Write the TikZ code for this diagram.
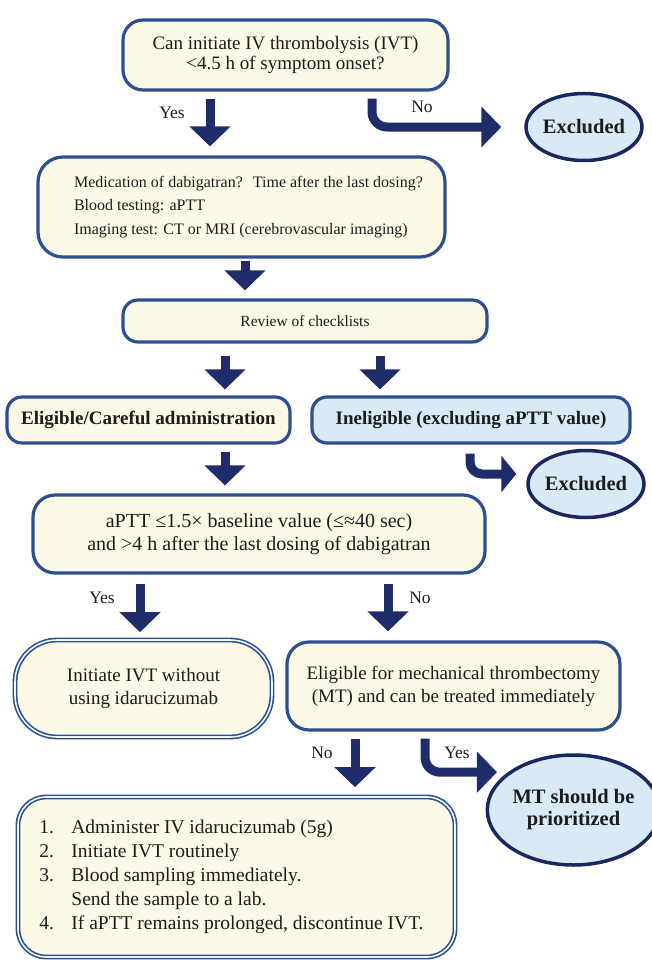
\documentclass[tikz,border=0pt]{standalone}
\usepackage{fontspec}
\setmainfont{Liberation Serif}
\usetikzlibrary{arrows.meta,shapes.geometric}
\definecolor{cream}{RGB}{252,250,230}
\definecolor{lblue}{RGB}{216,234,246}
\definecolor{bord}{RGB}{45,78,145}
\definecolor{arr}{RGB}{31,44,106}
\definecolor{ovb}{RGB}{28,39,97}
\definecolor{txt}{RGB}{28,28,28}
\begin{document}
\begin{tikzpicture}[x=1pt,y=-1pt,
  box/.style={draw=bord, line width=3.2pt, fill=cream, rounded corners=18pt,
    inner sep=0pt, text=txt, align=center, font=\fontsize{19}{23}\selectfont},
  bluebox/.style={box, fill=lblue},
  dbox/.style={box, line width=1.6pt, double=lblue!40!white, double distance=1.6pt},
  oval/.style={ellipse, draw=ovb, line width=3.5pt, fill=lblue, inner sep=0pt,
    text=txt, align=center, font=\fontsize{20.5}{22}\selectfont\bfseries},
  lbl/.style={text=txt, inner sep=0pt, font=\fontsize{17.5}{20}\selectfont},
  bigarrow/.style={draw=arr, line width=9pt, -{Triangle[width=40pt,length=20pt]}},
  smallarrow/.style={draw=arr, line width=9pt, -{Triangle[width=36pt,length=15pt]}}
]
\useasboundingbox (0,0) rectangle (652,964);

% nodes
\node[box, rounded corners=20pt, minimum width=325pt, minimum height=70pt,
  font=\fontsize{19}{20}\selectfont] (q1) at (285.5,55)
  {Can initiate IV thrombolysis (IVT)\\<4.5 h of symptom onset?};
\node[oval, minimum width=108pt, minimum height=67pt] (exc1) at (584,127) {Excluded};
\node[box, rounded corners=25pt, minimum width=407pt, minimum height=100pt, align=left,
  font=\fontsize{16}{23.5}\selectfont] (med) at (241.5,207)
  {\hspace*{14pt}Medication of dabigatran?\hspace{10pt}Time after the last dosing?\\
   \hspace*{14pt}Blood testing: aPTT\\
   \hspace*{14pt}Imaging test: CT or MRI (cerebrovascular imaging)};
\node[box, rounded corners=15pt, minimum width=364pt, minimum height=42pt,
  font=\fontsize{15.5}{18}\selectfont] (rev) at (305,321) {Review of checklists};
\node[box, rounded corners=15pt, minimum width=283pt, minimum height=46pt,
  font=\fontsize{19}{22}\selectfont\bfseries] (elig) at (148.5,420) {Eligible/Careful administration};
\node[bluebox, rounded corners=15pt, minimum width=318pt, minimum height=46pt,
  font=\fontsize{19}{22}\selectfont\bfseries] (inel) at (471,420) {Ineligible (excluding aPTT value)};
\node[oval, minimum width=108pt, minimum height=67pt] (exc2) at (586,484) {Excluded};
\node[box, rounded corners=22pt, minimum width=452pt, minimum height=78pt,
  font=\fontsize{20}{23}\selectfont] (aptt) at (259,534)
  {aPTT ≤1.5× baseline value (≤≈40 sec)\\and >4 h after the last dosing of dabigatran};
\node[dbox, rounded corners=42pt, minimum width=257pt, minimum height=97pt] (init) at (143.5,688.5)
  {Initiate IVT without\\using idarucizumab};
\node[box, rounded corners=22pt, minimum width=333pt, minimum height=88pt] (mte) at (453.5,686)
  {Eligible for mechanical thrombectomy\\(MT) and can be treated immediately};
\node[oval, minimum width=143pt, minimum height=110pt] (mt) at (573.5,810)
  {MT should be\\prioritized};
\node[dbox, rounded corners=28pt, minimum width=437pt, minimum height=160pt, align=left,
  font=\fontsize{19.5}{24}\selectfont] (steps) at (236.5,877)
  {\makebox[32pt][l]{1.}Administer IV idarucizumab (5g)\\
   \makebox[32pt][l]{2.}Initiate IVT routinely\\
   \makebox[32pt][l]{3.}Blood sampling immediately.\\
   \hspace*{32pt}Send the sample to a lab.\\
   \makebox[32pt][l]{4.}If aPTT remains prolonged, discontinue IVT.\hspace*{10pt}};

% labels
\node[lbl] (yes1) at (172,113) {Yes};
\node[lbl] (no1) at (422,107) {No};
\node[lbl] (yes2) at (102,598) {Yes};
\node[lbl] (no2) at (420,598) {No};
\node[lbl] (no3) at (322,753) {No};
\node[lbl] (yes3) at (457,753) {Yes};

% column coordinates
\coordinate (c1) at (210,0);
\coordinate (c2) at (372,0);
\coordinate (c3) at (245,0);
\coordinate (c4) at (225,0);
\coordinate (c5) at (380,0);
\coordinate (c6) at (470,0);
\coordinate (c7) at (140,0);
\coordinate (c8) at (388,0);
\coordinate (c9) at (355,0);
\coordinate (c10) at (425,0);

% connectors
\draw[bigarrow, shorten <=7pt, shorten >=9pt] (q1.south -| c1) -- (med.north -| c1);
\draw[bigarrow, rounded corners=15pt, shorten <=7pt, shorten >=23pt] (q1.south -| c2) |- (exc1.west);
\draw[bigarrow, shorten <=2pt, shorten >=8pt] (med.south -| c3) -- (rev.north -| c3);
\draw[bigarrow, shorten <=12pt, shorten >=6pt] (rev.south -| c4) -- (elig.north -| c4);
\draw[bigarrow, shorten <=12pt, shorten >=6pt] (rev.south -| c5) -- (inel.north -| c5);
\draw[bigarrow, shorten <=7pt, shorten >=8pt] (elig.south -| c4) -- (aptt.north -| c4);
\draw[smallarrow, rounded corners=12pt, shorten <=9pt, shorten >=10pt] (inel.south -| c6) |- ([yshift=10pt]exc2.west);
\draw[bigarrow, shorten <=9pt, shorten >=7pt] (aptt.south -| c7) -- (init.north -| c7);
\draw[bigarrow, shorten <=9pt, shorten >=9pt] (aptt.south -| c8) -- (mte.north -| c8);
\draw[bigarrow, shorten <=7pt, shorten >=9pt] (mte.south -| c9) -- (steps.north -| c9);
\draw[bigarrow, rounded corners=15pt, shorten <=7pt, shorten >=11pt] (mte.south -| c10) |- (mt.150);
\end{tikzpicture}
\end{document}
